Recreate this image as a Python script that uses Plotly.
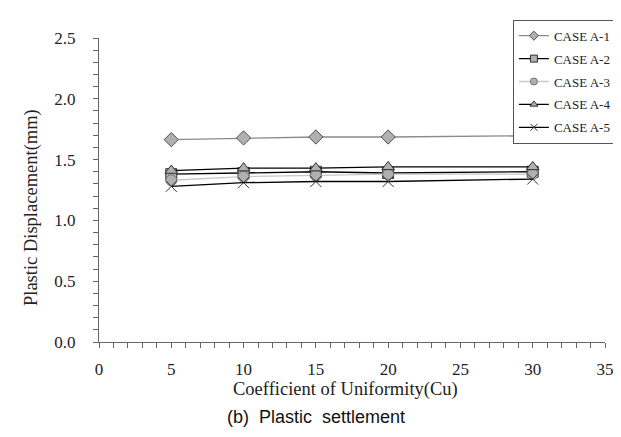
import plotly.graph_objects as go

cu = [5, 10, 15, 20, 30]
case_a1 = [1.664, 1.678, 1.686, 1.686, 1.696]
case_a2 = [1.38, 1.39, 1.40, 1.39, 1.40]
case_a3 = [1.33, 1.36, 1.37, 1.38, 1.38]
case_a4 = [1.41, 1.43, 1.43, 1.44, 1.44]
case_a5 = [1.28, 1.31, 1.32, 1.32, 1.34]
names = ["CASE A-1", "CASE A-2", "CASE A-3", "CASE A-4", "CASE A-5"]
x_title = "Coefficient of Uniformity(Cu)"
y_title = "Plastic Displacement(mm)"
caption = "(b)\u00a0\u00a0Plastic\u00a0\u00a0settlement"

series = [case_a1, case_a2, case_a3, case_a4, case_a5]
line_colors = ["#8a8a8a", "#000000", "#c8c8c8", "#000000", "#000000"]
symbols = ["diamond", "square", "circle", "triangle-up", "x-thin"]
fills = ["#b0b0b0", "#b0b0b0", "#b0b0b0", "#b0b0b0", "#333333"]
outlines = ["#505050", "#303030", "#707070", "#303030", "#333333"]

fig = go.Figure()
for i, (nm, ys) in enumerate(zip(names, series)):
    fig.add_trace(go.Scatter(
        x=cu, y=ys, name=nm, mode="lines+markers", legendgroup=nm, showlegend=False,
        line=dict(color=line_colors[i], width=1.3),
        marker=dict(symbol=symbols[i], size=11, color=fills[i],
                    line=dict(color=outlines[i], width=1)),
    ))
# legend-only entries with smaller symbols, as in the reference legend
for i, nm in enumerate(names):
    fig.add_trace(go.Scatter(
        x=[None], y=[None], name=nm, mode="lines+markers", legendgroup=nm,
        line=dict(color=line_colors[i], width=1.3),
        marker=dict(symbol=symbols[i], size=7, color=fills[i],
                    line=dict(color=outlines[i], width=1)),
    ))

font_serif = "Liberation Serif, Times New Roman, serif"
fig.update_layout(
    width=621, height=437,
    margin=dict(l=91, r=19, t=20, b=103),
    paper_bgcolor="white", plot_bgcolor="white",
    font=dict(family=font_serif, size=17, color="#222"),
    showlegend=True,
    legend=dict(x=0.818, y=1.06, xanchor="left", yanchor="top",
                bordercolor="#555", borderwidth=1, bgcolor="white",
                font=dict(family=font_serif, size=13, color="#222"),
                tracegroupgap=3),
    xaxis=dict(range=[0, 35], dtick=5, tick0=0, showgrid=False, zeroline=False,
               showline=True, linecolor="#666", linewidth=1,
               ticks="outside", ticklen=5, tickcolor="#666",
               minor=dict(dtick=1, ticks="outside", ticklen=5, tickcolor="#666"),
               ticklabelstandoff=7),
    yaxis=dict(range=[0, 2.5], dtick=0.5, tick0=0, tickformat=".1f", showgrid=False,
               zeroline=False, showline=True, linecolor="#666", linewidth=1,
               ticks="outside", ticklen=5, tickcolor="#666",
               minor=dict(dtick=0.1, ticks="outside", ticklen=5, tickcolor="#666"),
               ticklabelstandoff=14),
    annotations=[
        dict(text=x_title, xref="paper", yref="paper", x=0.487, y=-0.156,
             xanchor="center", yanchor="middle", showarrow=False,
             font=dict(family=font_serif, size=18.5, color="#222")),
        dict(text=y_title, xref="paper", yref="paper", x=-0.133, y=0.443,
             xanchor="center", yanchor="middle", showarrow=False, textangle=-90,
             font=dict(family=font_serif, size=18.5, color="#222")),
        dict(text=caption, xref="paper", yref="paper",
             x=0.429, y=-0.248, xanchor="center", yanchor="middle", showarrow=False,
             font=dict(family="Liberation Sans, Arial, sans-serif", size=18, color="#111")),
    ],
)

fig.write_html("out.html")
